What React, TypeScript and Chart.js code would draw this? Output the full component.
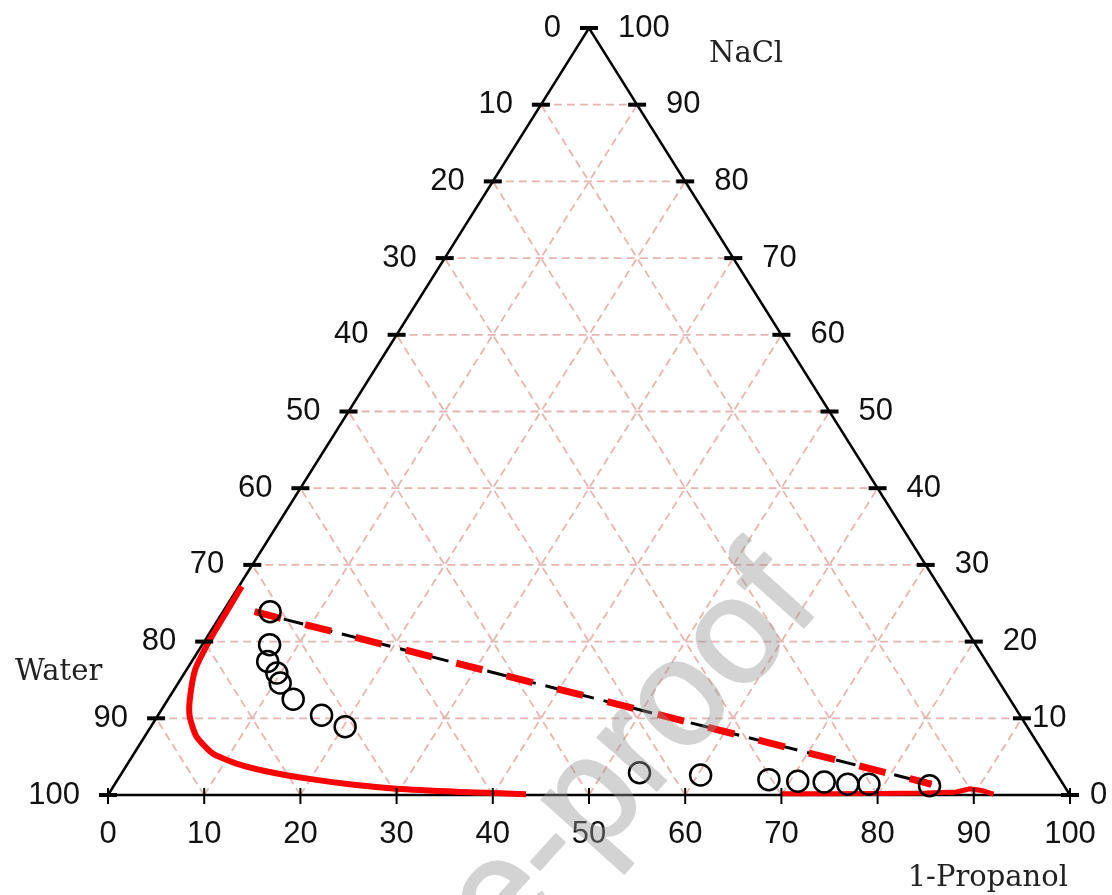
import React, { useEffect, useRef } from "react";
import { Chart, registerables } from "chart.js";

Chart.register(...registerables);

// Tick values for each of the three ternary axes (percent)
const tickValues = [0, 10, 20, 30, 40, 50, 60, 70, 80, 90, 100];

// Binodal curve (red solid), water-rich branch: 1-Propanol %, NaCl %
const binodalLeftPropanol = [0.3, 0.4, 0.5, 0.9, 2.3, 3.4, 5.4, 8.2, 11.3, 15.3, 19.9, 24.4, 29.6, 36.4, 43.4];
const binodalLeftNaCl = [27.2, 23.2, 19.8, 16.3, 12.4, 10.2, 7.6, 5.4, 4.1, 3.0, 2.1, 1.4, 0.8, 0.4, 0.1];

// Binodal curve (red solid), propanol-rich branch
const binodalRightPropanol = [70.0, 75.0, 80.0, 85.0, 88.0, 89.2, 90.5, 92.0];
const binodalRightNaCl = [0.15, 0.15, 0.2, 0.25, 0.4, 0.8, 0.6, 0.1];

// Tie line (dashed)
const tiePropanol = [3.3, 84.9];
const tieNaCl = [23.9, 1.4];

// Experimental points (open circles)
const expPropanol = [4.9, 7.0, 7.9, 9.6, 10.6, 13.0, 17.0, 20.2, 53.8, 60.3, 67.7, 70.8, 73.6, 76.2, 78.4, 84.8];
const expNaCl = [23.9, 19.6, 17.4, 15.9, 14.6, 12.5, 10.4, 8.9, 2.9, 2.6, 2.0, 1.8, 1.7, 1.4, 1.4, 1.2];

const axisTitleWater = "Water";
const axisTitleNaCl = "NaCl";
const axisTitlePropanol = "1-Propanol";
const watermarkText = "Journal Pre-proof";

// ternary (propanol, NaCl) -> cartesian data units
const tern = (p: number, n: number) => ({ x: p + n / 2, y: n });
const gap = { x: NaN, y: NaN };

function buildGrid() {
  const pts: any[] = [];
  tickValues.slice(1, -1).forEach((k) => {
    pts.push(tern(0, k), tern(100 - k, k), gap);
    pts.push(tern(k, 0), tern(k, 100 - k), gap);
    pts.push(tern(100 - k, 0), tern(0, 100 - k), gap);
  });
  return pts;
}

const rightGap = (k: number) => (k === 0 ? 20 : k === 10 ? 10 : 29);

const ternaryPlugin = {
  id: "ternaryDecor",
  afterDatasetsDraw(chart: any) {
    const { ctx, scales } = chart;
    const xs = scales.x;
    const ys = scales.y;
    const P = (p: number, n: number) => {
      const t = tern(p, n);
      return [xs.getPixelForValue(t.x), ys.getPixelForValue(t.y)];
    };
    ctx.save();
    ctx.strokeStyle = "#000";
    ctx.fillStyle = "#111";
    ctx.font = "31px 'Liberation Sans', Arial, sans-serif";
    tickValues.forEach((k) => {
      // bottom axis (1-Propanol)
      let [X, Y] = P(k, 0);
      ctx.lineWidth = 2;
      ctx.beginPath();
      ctx.moveTo(X, Y - 7);
      ctx.lineTo(X, Y + 9);
      ctx.stroke();
      ctx.textAlign = "center";
      ctx.textBaseline = "middle";
      ctx.fillText(String(k), X, Y + 39);
      // left axis (Water)
      [X, Y] = P(0, k);
      ctx.lineWidth = 4;
      ctx.beginPath();
      ctx.moveTo(X - 9, Y);
      ctx.lineTo(X + 9, Y);
      ctx.stroke();
      ctx.textAlign = "right";
      ctx.fillText(String(100 - k), X - 28, Y);
      // right axis (NaCl)
      [X, Y] = P(100 - k, k);
      ctx.beginPath();
      ctx.moveTo(X - 9, Y);
      ctx.lineTo(X + 9, Y);
      ctx.stroke();
      ctx.textAlign = "left";
      ctx.fillText(String(k), X + rightGap(k), Y);
    });
    // axis titles
    ctx.font = "29px 'DejaVu Serif', serif";
    ctx.fillStyle = "#222";
    ctx.textBaseline = "alphabetic";
    ctx.textAlign = "left";
    const [tx, ty] = P(0, 100);
    ctx.fillText(axisTitleNaCl, tx + 120, ty + 34);
    const [lx, ly] = P(0, 0);
    ctx.fillText(axisTitleWater, lx - 93, ly - 115);
    const [rx, ry] = P(100, 0);
    ctx.textAlign = "right";
    ctx.fillText(axisTitlePropanol, rx - 2, ry + 91);
    // watermark (drawn opaque off-screen, then composited translucently)
    const off = document.createElement("canvas");
    off.width = chart.width;
    off.height = chart.height;
    const oc = off.getContext("2d") as CanvasRenderingContext2D;
    oc.translate(823, 606);
    oc.rotate((-48 * Math.PI) / 180);
    oc.font = "150px 'Liberation Sans', Arial, sans-serif";
    oc.fillStyle = "rgb(150,150,150)";
    oc.strokeStyle = "rgb(150,150,150)";
    oc.lineWidth = 2.5;
    oc.lineJoin = "round";
    oc.textAlign = "right";
    oc.fillText(watermarkText, 0, 0);
    oc.strokeText(watermarkText, 0, 0);
    ctx.globalAlpha = 0.42;
    ctx.drawImage(off, 0, 0);
    ctx.restore();
  },
};

export default function App() {
  const ref = useRef<HTMLCanvasElement | null>(null);
  useEffect(() => {
    if (!ref.current) return;
    const chart = new Chart(ref.current, {
      type: "scatter",
      data: {
        datasets: [
          {
            label: "exp",
            data: expPropanol.map((p, i) => tern(p, expNaCl[i])),
            showLine: false,
            pointRadius: 10.5,
            pointBorderWidth: 2.5,
            pointBorderColor: "#000",
            pointBackgroundColor: "rgba(0,0,0,0)",
            order: 0,
            clip: false,
          } as any,
          {
            label: "binodal-left",
            data: binodalLeftPropanol.map((p, i) => tern(p, binodalLeftNaCl[i])),
            showLine: true,
            borderColor: "#ff0000",
            borderWidth: 6,
            pointRadius: 0,
            tension: 0.2,
            borderCapStyle: "butt",
            order: 1,
            clip: false,
          },
          {
            label: "binodal-right",
            data: binodalRightPropanol.map((p, i) => tern(p, binodalRightNaCl[i])),
            showLine: true,
            borderColor: "#ff0000",
            borderWidth: 5,
            pointRadius: 0,
            tension: 0,
            order: 1,
            clip: false,
          },
          {
            label: "tie-red",
            data: tiePropanol.map((p, i) => tern(p, tieNaCl[i])),
            showLine: true,
            borderColor: "#ff0000",
            borderWidth: 7,
            borderDash: [27, 25],
            pointRadius: 0,
            order: 2,
            clip: false,
          },
          {
            label: "tie-black",
            data: tiePropanol.map((p, i) => tern(p, tieNaCl[i])),
            showLine: true,
            borderColor: "#000",
            borderWidth: 3,
            borderDash: [20, 10],
            pointRadius: 0,
            order: 3,
            clip: false,
          },
          {
            label: "frame",
            data: [tern(0, 0), tern(100, 0), tern(0, 100), tern(0, 0)],
            showLine: true,
            borderColor: "#000",
            borderWidth: 2.5,
            pointRadius: 0,
            order: 4,
            clip: false,
          },
          {
            label: "grid",
            data: buildGrid(),
            showLine: true,
            spanGaps: false,
            borderColor: "rgba(226,168,164,0.85)",
            borderWidth: 1.8,
            borderDash: [8, 5],
            pointRadius: 0,
            order: 5,
            clip: false,
          },
        ],
      },
      options: {
        animation: false,
        responsive: false,
        devicePixelRatio: 1,
        layout: { padding: { left: 108, right: 42, top: 28, bottom: 100 } },
        scales: {
          x: { type: "linear", min: 0, max: 100, display: false },
          y: { type: "linear", min: 0, max: 100, display: false },
        },
        plugins: { legend: { display: false }, tooltip: { enabled: false } },
        events: [],
      },
      plugins: [ternaryPlugin],
    });
    return () => chart.destroy();
  }, []);
  return (
    <div style={{ position: "fixed", left: 0, top: 0, width: 1112, height: 895, background: "#fff" }}>
      <canvas ref={ref} width={1112} height={895} style={{ display: "block", width: 1112, height: 895 }} />
    </div>
  );
}
